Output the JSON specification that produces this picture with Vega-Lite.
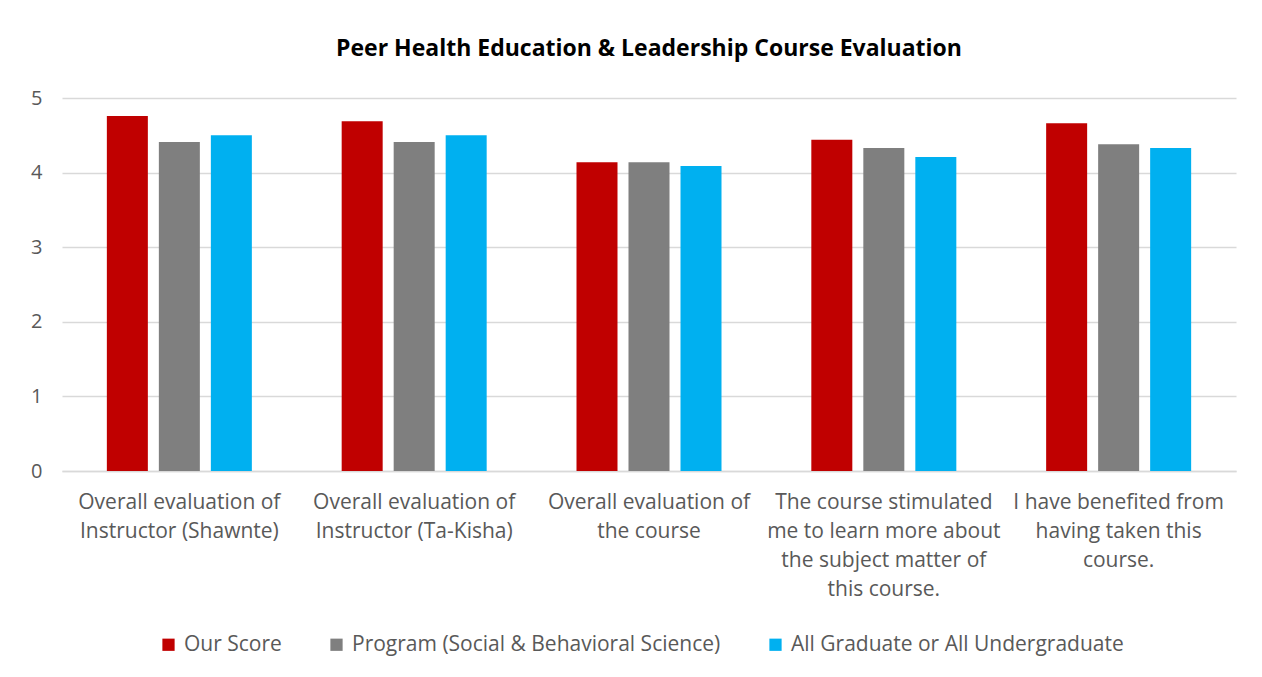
{
  "$schema": "https://vega.github.io/schema/vega-lite/v6.json",
  "width": 1174,
  "height": 373,
  "padding": {"left": 30, "top": 38, "right": 20, "bottom": 10},
  "background": "white",
  "title": {
    "text": "Peer Health Education & Leadership Course Evaluation",
    "font": "Open Sans",
    "fontSize": 23,
    "fontWeight": "bold",
    "color": "#000000",
    "anchor": "middle",
    "offset": 27
  },
  "data": {
    "values": [
      {"question": "Overall evaluation of|Instructor (Shawnte)", "series": "Our Score", "score": 4.76},
      {"question": "Overall evaluation of|Instructor (Shawnte)", "series": "Program (Social & Behavioral Science)", "score": 4.41},
      {"question": "Overall evaluation of|Instructor (Shawnte)", "series": "All Graduate or All Undergraduate", "score": 4.50},
      {"question": "Overall evaluation of|Instructor (Ta-Kisha)", "series": "Our Score", "score": 4.69},
      {"question": "Overall evaluation of|Instructor (Ta-Kisha)", "series": "Program (Social & Behavioral Science)", "score": 4.41},
      {"question": "Overall evaluation of|Instructor (Ta-Kisha)", "series": "All Graduate or All Undergraduate", "score": 4.50},
      {"question": "Overall evaluation of|the course", "series": "Our Score", "score": 4.14},
      {"question": "Overall evaluation of|the course", "series": "Program (Social & Behavioral Science)", "score": 4.14},
      {"question": "Overall evaluation of|the course", "series": "All Graduate or All Undergraduate", "score": 4.09},
      {"question": "The course stimulated|me to learn more about|the subject matter of|this course.", "series": "Our Score", "score": 4.44},
      {"question": "The course stimulated|me to learn more about|the subject matter of|this course.", "series": "Program (Social & Behavioral Science)", "score": 4.33},
      {"question": "The course stimulated|me to learn more about|the subject matter of|this course.", "series": "All Graduate or All Undergraduate", "score": 4.21},
      {"question": "I have benefited from|having taken this|course.", "series": "Our Score", "score": 4.66},
      {"question": "I have benefited from|having taken this|course.", "series": "Program (Social & Behavioral Science)", "score": 4.38},
      {"question": "I have benefited from|having taken this|course.", "series": "All Graduate or All Undergraduate", "score": 4.33}
    ]
  },
  "mark": {"type": "bar"},
  "encoding": {
    "x": {
      "field": "question",
      "type": "nominal",
      "sort": null,
      "title": null,
      "scale": {"paddingInner": 0.3825, "paddingOuter": 0.191},
      "axis": {
        "labelExpr": "split(datum.label, '|')",
        "labelAngle": 0,
        "labelFont": "Open Sans",
        "labelFontSize": 21,
        "labelColor": "#595959",
        "labelLineHeight": 29,
        "labelPadding": 20,
        "labelBaseline": "top",
        "labelLimit": 0,
        "ticks": false,
        "domainColor": "#d9d9d9",
        "domainWidth": 1.5,
        "grid": false
      }
    },
    "xOffset": {
      "field": "series",
      "type": "nominal",
      "sort": ["Our Score", "Program (Social & Behavioral Science)", "All Graduate or All Undergraduate"],
      "scale": {"paddingInner": 0.2115, "paddingOuter": 0}
    },
    "y": {
      "field": "score",
      "type": "quantitative",
      "title": null,
      "scale": {"domain": [0, 5], "nice": false},
      "axis": {
        "values": [0, 1, 2, 3, 4, 5],
        "labelFont": "Open Sans",
        "labelFontSize": 20,
        "labelColor": "#595959",
        "labelPadding": 20,
        "ticks": false,
        "domain": false,
        "gridColor": "#d9d9d9",
        "gridWidth": 1.5
      }
    },
    "color": {
      "field": "series",
      "type": "nominal",
      "sort": ["Our Score", "Program (Social & Behavioral Science)", "All Graduate or All Undergraduate"],
      "scale": {
        "domain": ["Our Score", "Program (Social & Behavioral Science)", "All Graduate or All Undergraduate"],
        "range": ["#c00000", "#7f7f7f", "#00b0f0"]
      },
      "legend": {
        "title": null,
        "orient": "none",
        "legendX": 96,
        "legendY": 536,
        "direction": "horizontal",
        "symbolType": "square",
        "symbolSize": 150,
        "symbolStrokeWidth": 0,
        "labelFont": "Open Sans",
        "labelFontSize": 21,
        "labelColor": "#595959",
        "labelLimit": 0,
        "labelOffset": 5,
        "columnPadding": 44
      }
    }
  },
  "config": {
    "view": {"stroke": null}
  }
}
